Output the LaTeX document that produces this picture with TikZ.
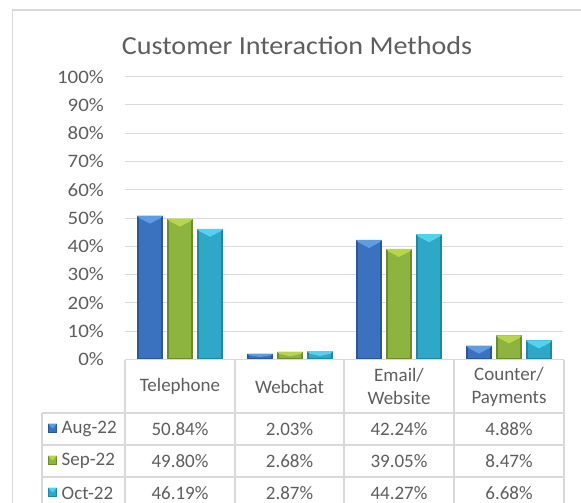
\documentclass[tikz,border=0pt]{standalone}
\usepackage{fontspec}
\setmainfont{Carlito}
\newfontfamily\ttlfont[FakeStretch=1.08]{Carlito}
\newfontfamily\axfont[FakeStretch=1.1]{Carlito}
\definecolor{txtgray}{HTML}{5E5E5E}
\definecolor{gridgray}{HTML}{D9D9D9}
\definecolor{framegray}{HTML}{D9D9D9}
\definecolor{Abody}{HTML}{3A72C0}
\definecolor{Aedge}{HTML}{2A5798}
\definecolor{Atop}{HTML}{5E9DE4}
\definecolor{Bbody}{HTML}{8DB43E}
\definecolor{Bedge}{HTML}{6C8C2C}
\definecolor{Btop}{HTML}{B6D64E}
\definecolor{Cbody}{HTML}{2FA8C8}
\definecolor{Cedge}{HTML}{1F86A3}
\definecolor{Ctop}{HTML}{52D2F0}
\tikzset{
  lbl/.style={text=txtgray, font=\fontsize{19}{23}\selectfont, inner sep=0pt},
  axlbl/.style={text=txtgray, font=\axfont\fontsize{19}{23}\selectfont, inner sep=0pt},
  ttl/.style={text=txtgray, font=\ttlfont\fontsize{26}{30}\selectfont, inner sep=0pt},
  gridline/.style={draw=gridgray, line width=1pt},
  tabline/.style={draw=gridgray, line width=1.2pt},
}
\newcommand\cbar[3]{%
  \pgfmathsetmacro\xa{#1-13}%
  \pgfmathsetmacro\xb{#1+13}%
  \pgfmathsetmacro\hh{2.826*#2}%
  \pgfmathsetmacro\yt{359.3-\hh}%
  \pgfmathsetmacro\dd{min(8,0.6*\hh)}%
  \pgfmathsetmacro\ee{min(2.5,0.3*\hh)}%
  \fill[#3body] (\xa,\yt) rectangle (\xb,359.3);
  \fill[#3edge] (\xa,\yt) rectangle ({\xa+2},359.3);
  \fill[#3edge] ({\xb-2},\yt) rectangle (\xb,359.3);
  \fill[#3edge] (\xa,{359.3-1.5}) rectangle (\xb,359.3);
  \fill[#3top] (\xa,\yt) -- (\xb,\yt) -- ({\xb-2.5},{\yt+\ee}) -- (#1,{\yt+\dd}) -- ({\xa+2.5},{\yt+\ee}) -- cycle;
}
\newcommand\cmark[3]{%
  \fill[#3body] ({#1-4.5},{#2-4.5}) rectangle ({#1+4.5},{#2+4.5});
  \fill[#3edge] ({#1-4.5},{#2-4.5}) rectangle ({#1-3.5},{#2+4.5});
  \fill[#3edge] ({#1+3.5},{#2-4.5}) rectangle ({#1+4.5},{#2+4.5});
  \fill[#3edge] ({#1-4.5},{#2+3.5}) rectangle ({#1+4.5},{#2+4.5});
  \fill[#3top] ({#1-4.5},{#2-4.5}) -- ({#1+4.5},{#2-4.5}) -- (#1,{#2+0.5}) -- cycle;
}
\begin{document}
\begin{tikzpicture}[x=1pt,y=-1pt]
\useasboundingbox (0,0) rectangle (581,503);
\begin{scope}
\clip (0,0) rectangle (581,503);
% chart frame
\draw[framegray, line width=1.2pt] (12.7,530) -- (12.7,10) -- (600,10);
% title
\node[ttl, anchor=base] (title) at (297,54.3) {Customer Interaction Methods};
% gridlines and axis labels
\foreach \k in {1,...,10}
  \draw[gridline] (125,{359.3-28.26*\k}) -- (563,{359.3-28.26*\k});
\foreach \k [evaluate=\k as \p using int(10*\k)] in {0,...,10}
  \node[axlbl, anchor=east] (y\k) at (104,{359.3-28.26*\k}) {\p\%};
% bars
\cbar{150}{50.84}{A}\cbar{180}{49.80}{B}\cbar{210}{46.19}{C}
\cbar{260}{2.03}{A}\cbar{290}{2.68}{B}\cbar{320}{2.87}{C}
\cbar{369}{42.24}{A}\cbar{399}{39.05}{B}\cbar{429}{44.27}{C}
\cbar{479}{4.88}{A}\cbar{509}{8.47}{B}\cbar{539}{6.68}{C}
% table
\draw[tabline] (125,359.8) -- (564,359.8);
\foreach \yy in {413,445,477,509}
  \draw[tabline] (42,\yy) -- (564,\yy);
\foreach \xx in {125,235,344,454,564}
  \draw[tabline] (\xx,359.8) -- (\xx,520);
\draw[tabline] (42,413) -- (42,520);
% header
\node[lbl] (h1) at (180,386.5) {Telephone};
\node[lbl] (h2) at (289.5,386.5) {Webchat};
\node[lbl, align=center] (h3) at (399,386.5) {Email/\\Website};
\node[lbl, align=center] (h4) at (509,386.5) {Counter/\\Payments};
% rows
\cmark{52.5}{428}{A}
\cmark{52.5}{460}{B}
\cmark{52.5}{492}{C}
\node[lbl, anchor=west] (r1) at (61.5,429) {Aug-22};
\node[lbl, anchor=west] (r2) at (61.5,461) {Sep-22};
\node[lbl, anchor=west] (r3) at (61.5,493) {Oct-22};
\node[lbl] (a1) at (180,429) {50.84\%};
\node[lbl] (a2) at (289.5,429) {2.03\%};
\node[lbl] (a3) at (399,429) {42.24\%};
\node[lbl] (a4) at (509,429) {4.88\%};
\node[lbl] (b1) at (180,461) {49.80\%};
\node[lbl] (b2) at (289.5,461) {2.68\%};
\node[lbl] (b3) at (399,461) {39.05\%};
\node[lbl] (b4) at (509,461) {8.47\%};
\node[lbl] (c1) at (180,493) {46.19\%};
\node[lbl] (c2) at (289.5,493) {2.87\%};
\node[lbl] (c3) at (399,493) {44.27\%};
\node[lbl] (c4) at (509,493) {6.68\%};
\end{scope}
\end{tikzpicture}
\end{document}
